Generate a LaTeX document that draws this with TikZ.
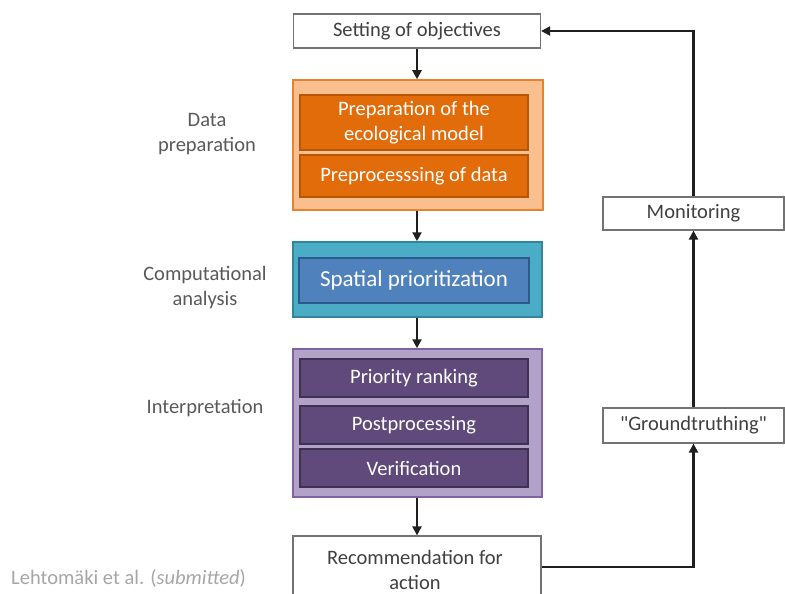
\documentclass[tikz,border=0pt]{standalone}
\usepackage{fontspec}
\setmainfont{Carlito}
\newfontfamily\rawfont{Carlito}[Ligatures=TeXOff]
\usetikzlibrary{arrows.meta}
\definecolor{orOut}{HTML}{F9BF8F}
\definecolor{orOutD}{HTML}{E9822E}
\definecolor{orIn}{HTML}{E26B0A}
\definecolor{orInD}{HTML}{B65708}
\definecolor{tlOut}{HTML}{4BACC6}
\definecolor{tlOutD}{HTML}{31859C}
\definecolor{blIn}{HTML}{4F81BD}
\definecolor{blInD}{HTML}{2C5A8F}
\definecolor{puOut}{HTML}{B3A2C7}
\definecolor{puOutD}{HTML}{8064A2}
\definecolor{puIn}{HTML}{604A7B}
\definecolor{puInD}{HTML}{3F3151}
\definecolor{txt}{HTML}{404040}
\definecolor{lbl}{HTML}{595959}
\definecolor{cite}{HTML}{A6A6A6}
\tikzset{
  base/.style={font=\fontsize{20.5}{25}\selectfont, align=center, inner sep=0pt, rectangle},
  whitebox/.style={base, draw=black!55, line width=1.2pt, fill=white, text=txt},
  outerbox/.style={base, line width=1.5pt},
  innerbox/.style={base, line width=1.5pt, text=white},
  sidelabel/.style={base, text=lbl},
  conn/.style={line width=2.2pt, draw=black!88, -{Triangle[length=9pt,width=9pt]}},
}
\begin{document}
\begin{tikzpicture}[x=1pt,y=-1pt]
\useasboundingbox (0,0) rectangle (785,594);
\clip (0,0) rectangle (785,594);

% top box
\node[whitebox, minimum width=247pt, minimum height=34pt] (set) at (417,31) {Setting of objectives};

% orange group
\node[outerbox, draw=orOutD, fill=orOut, minimum width=250pt, minimum height=130pt] (dp) at (418,145) {};
\node[innerbox, draw=orInD, fill=orIn, minimum width=228pt, minimum height=55pt] (eco) at (414,122.5) {Preparation of the\\ecological model};
\node[innerbox, draw=orInD, fill=orIn, minimum width=228pt, minimum height=42pt] (pre) at (414,176) {Preprocesssing of data};

% teal group
\node[outerbox, draw=tlOutD, fill=tlOut, minimum width=249pt, minimum height=75pt] (ca) at (417.5,279.5) {};
\node[innerbox, draw=blInD, fill=blIn, minimum width=230pt, minimum height=45pt, font=\fontsize{23}{27}\selectfont] (sp) at (414,280.5) {Spatial prioritization};

% purple group
\node[outerbox, draw=puOutD, fill=puOut, minimum width=249pt, minimum height=148pt] (ip) at (417.5,423) {};
\node[innerbox, draw=puInD, fill=puIn, minimum width=228pt, minimum height=38pt] (pr) at (414,378) {Priority ranking};
\node[innerbox, draw=puInD, fill=puIn, minimum width=228pt, minimum height=38pt] (pp) at (414,425) {Postprocessing};
\node[innerbox, draw=puInD, fill=puIn, minimum width=228pt, minimum height=38pt] (ve) at (414,468) {Verification};

% recommendation
\node[whitebox, minimum width=248pt, minimum height=62pt] (rec) at (417,567) {};
\node[base, text=txt] (rectext) at (415,570) {Recommendation for\\action};

% right boxes
\node[whitebox, minimum width=181pt, minimum height=33pt] (mon) at (693.5,213.5) {Monitoring};
\node[whitebox, minimum width=181pt, minimum height=35pt] (gt) at (693.5,425.5) {{\rawfont "Groundtruthing"}};

% side labels
\node[sidelabel] (l1) at (207,134) {Data\\preparation};
\node[sidelabel] (l2) at (205,288) {Computational\\analysis};
\node[sidelabel] (l3) at (205,408) {Interpretation};
\node[base, text=cite, anchor=west] (ct) at (11,578) {Lehtomäki et al. (\textit{submitted})};

% connectors
\draw[conn] (set.south -| 417,0) -- (dp.north -| 417,0);
\draw[conn] (dp.south -| 417,0) -- (ca.north -| 417,0);
\draw[conn] (ca.south -| 417,0) -- (ip.north -| 417,0);
\draw[conn] (ip.south -| 417,0) -- (rec.north -| 417,0);
\draw[conn] (rec.east) -| (gt.south);
\draw[conn] (gt.north) -- (mon.south);
\draw[conn] (mon.north) |- (set.east);
\end{tikzpicture}
\end{document}
